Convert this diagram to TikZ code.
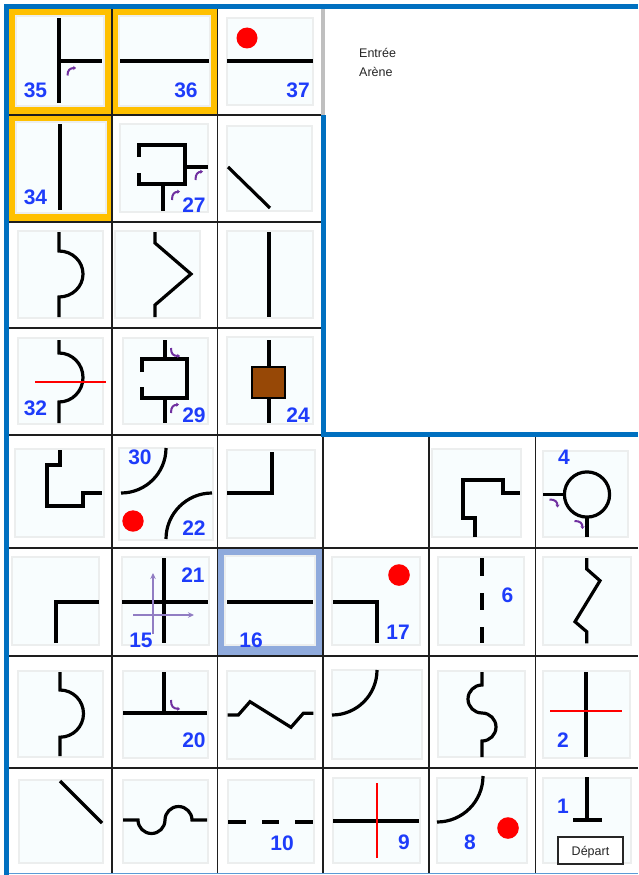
\documentclass[tikz,border=0pt]{standalone}
\usepackage{fontspec}
\setmainfont{Liberation Sans}
\usetikzlibrary{arrows.meta}
\definecolor{bordblue}{RGB}{0,112,192}
\definecolor{yellowc}{RGB}{255,192,0}
\definecolor{grayc}{RGB}{191,191,191}
\definecolor{selc}{RGB}{143,170,220}
\definecolor{tilefill}{RGB}{248,253,254}
\definecolor{tileedge}{RGB}{236,238,238}
\definecolor{lblblue}{RGB}{30,60,250}
\definecolor{turnpurple}{RGB}{112,48,160}
\definecolor{axpurple}{RGB}{145,125,195}
\definecolor{brownc}{RGB}{151,72,6}
\definecolor{botblue}{RGB}{91,155,213}
\definecolor{gridc}{RGB}{30,30,30}
\begin{document}
\begin{tikzpicture}[x=1pt,y=-1pt,
  wall/.style={draw=black,line width=3.2pt,line join=miter},
  redline/.style={draw=red,line width=2.4pt},
  tile/.style={fill=tilefill,draw=tileedge,line width=1.2pt},
  gridline/.style={draw=gridc,line width=1.4pt},
  lbl/.style={text=lblblue,font=\fontsize{21}{21}\selectfont\bfseries,inner sep=0pt},
  small/.style={text=black!85,font=\fontsize{12.5}{12.5}\selectfont,inner sep=0pt},
  turn/.style={draw=turnpurple,line width=2pt,-{Stealth[length=2.8pt,width=4.2pt]}},
  axisarrow/.style={draw=axpurple,line width=1.6pt,-{Stealth[length=6pt,width=5.5pt]}},
  reddot/.style={fill=red}]
\useasboundingbox (0,0) rectangle (638,875);
\fill[white] (0,0) rectangle (638,875);
% highlighted cells
\fill[yellowc] (9,9) rectangle (112,115);
\fill[yellowc] (112,9) rectangle (217.5,115);
\fill[yellowc] (9,115) rectangle (112,222);
\fill[selc] (217.5,548) rectangle (323,656);
% tiles
\foreach \a/\b/\c/\d in {16/16/104/106, 119/16/210/106, 227/18/313/105,
  16/122/106/213, 120/124/208/212, 227/126/312/211,
  18/231/103/318, 115/231/200/318, 227/231/313/318,
  18/338/103/424, 123/338/208/424, 227/337/313/424,
  15/449/104/537, 119/448/213/540, 227/450/315/538, 432/449/521/537, 543/451/628/537,
  12/557/99/645, 122/557/209/645, 225/556/315/645, 332/557/420/645, 438/557/524/645, 543/557/631/645,
  18/671/103/757, 123/671/208/758, 227/671/315/759, 332/670/422/759, 438/671/525/757, 543/671/630/758,
  19/780/103/863, 123/780/208/863, 228/780/314/863, 333/778/420/863, 437/778/527/863, 543/778/631/863}
  \filldraw[tile] (\a,\b) rectangle (\c,\d);
% grid
\draw[gridline] (112,7) -- (112,873);
\draw[gridline] (217.5,7) -- (217.5,873);
\draw[gridline] (323,435) -- (323,873);
\draw[gridline] (429,435) -- (429,873);
\draw[gridline] (535.5,435) -- (535.5,873);
\foreach \yy in {115,222,328,435} \draw[gridline] (7,\yy) -- (323,\yy);
\foreach \yy in {548,656,768} \draw[gridline] (7,\yy) -- (638,\yy);
% borders
\draw[grayc,line width=4pt] (323,9) -- (323,115);
\draw[bordblue,line width=5pt] (323.5,115) -- (323.5,434.5) -- (638,434.5);
\draw[bordblue,line width=5pt] (6.5,875) -- (6.5,6.5) -- (638,6.5);
\draw[botblue,line width=1.3pt] (9,873.5) -- (638,873.5);
% arena text
\node[small,anchor=base west] (entree) at (359,57.3) {Entrée};
\node[small,anchor=base west] (arene) at (359,76) {Arène};
% row 0
\draw[wall] (59,18) -- (59,103);
\draw[wall] (59,61) -- (102,61);
\draw[turn] (67.5,75.5) .. controls (67.5,70) and (70,68) .. (76,68);
\node[lbl] (l35) at (35.5,90) {35};
\draw[wall] (120,61) -- (209,61);
\node[lbl] (l36) at (186,90) {36};
\fill[reddot] (247,38) circle[radius=10.5pt];
\draw[wall] (227,61) -- (313,61);
\node[lbl] (l37) at (298,90) {37};
% row 1
\draw[wall] (60,124) -- (60,210);
\node[lbl] (l34) at (35.5,197) {34};
\draw[wall] (139,157) -- (139,145) -- (185,145) -- (185,184) -- (139,184) -- (139,173);
\draw[wall] (185,167) -- (208,167);
\draw[wall] (163,184) -- (163,211);
\draw[turn] (195.5,180) .. controls (195.5,174) and (197.5,172) .. (203,171.5);
\draw[turn] (172,200) .. controls (172,194) and (174,192) .. (180,191.5);
\node[lbl] (l27) at (194,205) {27};
\draw[wall] (228,167) -- (270,208);
% row 2
\draw[wall] (59,232) -- (59,251) arc[start angle=90,end angle=-90,x radius=24pt,y radius=23pt] -- (59,317);
\draw[wall] (155,232) -- (155,243) -- (191,274) -- (155,305) -- (155,317);
\draw[wall] (269,232) -- (269,317);
% row 3
\draw[wall] (59,340) -- (59,353) arc[start angle=90,end angle=-90,x radius=24pt,y radius=24.5pt] -- (59,423);
\draw[redline] (35,382) -- (106,382);
\node[lbl] (l32) at (35.5,408) {32};
\draw[wall] (165,340) -- (165,359);
\draw[wall] (142,372) -- (142,359) -- (187,359) -- (187,398) -- (142,398) -- (142,387);
\draw[wall] (165,398) -- (165,423);
\draw[turn] (171,348) .. controls (171,354) and (173,356) .. (180,356);
\draw[turn] (171,413) .. controls (171,407) and (173,405) .. (179,404.5);
\node[lbl] (l29) at (194,415) {29};
\draw[wall] (269,340) -- (269,423);
\filldraw[fill=brownc,draw=black,line width=1.2pt] (252,367) rectangle (285,398);
\node[lbl] (l24) at (298,415) {24};
% row 4
\draw[wall] (60,450) -- (60,465) -- (47,465) -- (47,506) -- (83,506) -- (83,493) -- (102,493);
\draw[wall] (166,448) arc[start angle=0,end angle=-90,radius=45pt];
\draw[wall] (212,493) arc[start angle=90,end angle=180,radius=46pt];
\fill[reddot] (133,521) circle[radius=10.7pt];
\node[lbl] (l30) at (140,457) {30};
\node[lbl] (l22) at (194,528) {22};
\draw[wall] (272,452) -- (272,493) -- (227,493);
\draw[wall] (475,537) -- (475,518) -- (463,518) -- (463,480) -- (503,480) -- (503,493) -- (520,493);
\draw[wall] (587,494.5) circle[radius=22.6pt];
\draw[wall] (543,494.5) -- (564.4,494.5);
\draw[wall] (587,517.1) -- (587,537);
\draw[turn] (549.5,499.5) .. controls (555,499.5) and (557.5,501.5) .. (557.5,507.5);
\draw[turn] (574.5,521) .. controls (580,521) and (582.5,523) .. (582.5,529);
\node[lbl] (l4) at (564,457.5) {4};
% row 5
\draw[wall] (56,643) -- (56,602) -- (99,602);
\draw[wall] (164,558) -- (164,643);
\draw[wall] (122,602) -- (208,602);
\draw[axisarrow] (153,634) -- (153,573);
\draw[axisarrow] (133,615) -- (194,615);
\node[lbl] (l21) at (193,575) {21};
\node[lbl] (l15) at (141,640) {15};
\draw[wall] (227,602) -- (313,602);
\node[lbl] (l16) at (251,640) {16};
\fill[reddot] (399,575) circle[radius=10.8pt];
\draw[wall] (333,602) -- (377,602) -- (377,643);
\node[lbl] (l17) at (398,632.5) {17};
\draw[wall] (482,558) -- (482,576);
\draw[wall] (482,593) -- (482,610);
\draw[wall] (482,627) -- (482,643);
\node[lbl] (l6) at (507.5,595) {6};
\draw[wall] (586.7,558) -- (586.7,569) -- (600,580.7) -- (575,621.7) -- (586.7,631.7) -- (586.7,643.3);
% row 6
\draw[wall] (60,672) -- (60,690) arc[start angle=90,end angle=-90,x radius=23.5pt,y radius=23.6pt] -- (60,756);
\draw[wall] (123,713) -- (207,713);
\draw[wall] (164,672) -- (164,713);
\draw[turn] (171,700) .. controls (171,706.5) and (173,708.5) .. (180,709);
\node[lbl] (l20) at (194,740.5) {20};
\draw[wall] (227.7,715) -- (238.3,715) -- (250,701.7) -- (291,727.3) -- (303.3,713.3) -- (313.3,713.3);
\draw[wall] (377,670) arc[start angle=0,end angle=-90,radius=45pt];
\draw[wall] (482,672) -- (482,685) arc[start angle=90,end angle=270,radius=14pt] arc[start angle=90,end angle=-90,radius=14pt] -- (482,757);
\draw[wall] (586,672) -- (586,757);
\draw[redline] (550,711) -- (622,711);
\node[lbl] (l2) at (563,740.5) {2};
% row 7
\draw[wall] (60,781) -- (102,823);
\draw[wall] (123,820) -- (138,820) arc[start angle=180,end angle=360,radius=13.5pt] arc[start angle=180,end angle=0,radius=13.5pt] -- (207,820);
\draw[wall] (228,822) -- (246,822);
\draw[wall] (262,822) -- (279,822);
\draw[wall] (295,822) -- (313,822);
\node[lbl] (l10) at (282,843) {10};
\draw[wall] (333,821) -- (419,821);
\draw[redline] (377,783) -- (377,858);
\node[lbl] (l9) at (404,842.5) {9};
\draw[wall] (483,776) arc[start angle=0,end angle=-90,radius=46pt];
\fill[reddot] (508,828) circle[radius=10.8pt];
\node[lbl] (l8) at (470,842.5) {8};
\draw[wall] (587,777) -- (587,820);
\draw[wall] (573,820) -- (602,820);
\node[lbl] (l1) at (563,806) {1};
\filldraw[fill=white,draw=black!85,line width=1.1pt] (558,837) rectangle (623,864);
\node[small,anchor=base] (depart) at (590.5,855) {Départ};
\end{tikzpicture}
\end{document}
